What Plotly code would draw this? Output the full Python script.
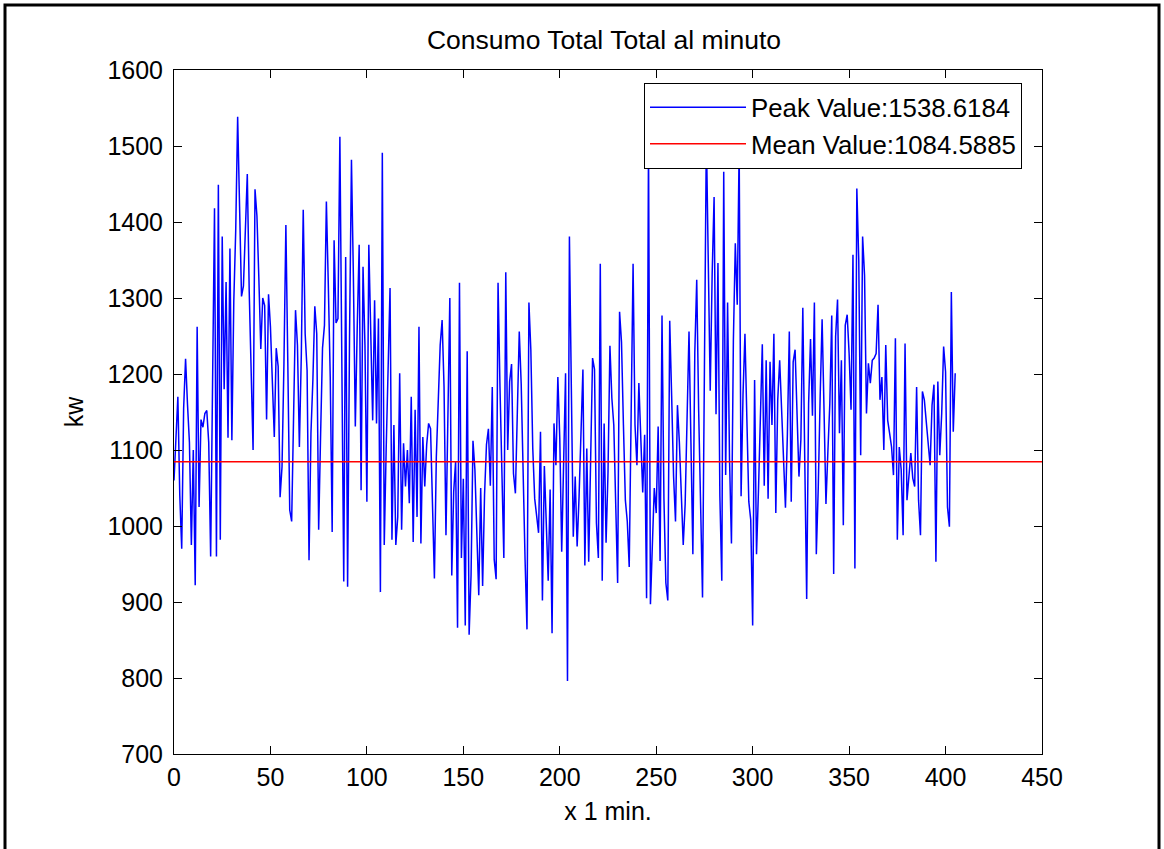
import plotly.graph_objects as go

# ---- data ----
consumo_kw = [
    1060, 1120, 1170, 1040, 970, 1155, 1220, 1160, 1110, 975,
    1100, 922, 1262, 1025, 1140, 1130, 1148, 1152, 1110, 960,
    1238, 1418, 960, 1449, 982, 1381,
    1180, 1321, 1116, 1365, 1113, 1296, 1389, 1538.6184, 1420, 1302,
    1316, 1380, 1463, 1308, 1210, 1100, 1443, 1408, 1325, 1233,
    1300, 1290, 1140, 1305,
    1262, 1196, 1117, 1234, 1210, 1038, 1078, 1214, 1396, 1216,
    1021, 1006, 1144, 1284, 1238, 1104, 1225, 1416, 1253, 1205,
    955, 1122, 1192, 1289, 1253, 995, 1120, 1234, 1264, 1427,
    1317, 1196, 992, 1376, 1267, 1273, 1512, 1218, 927, 1354,
    920, 1249, 1482, 1328, 1131, 1262, 1370, 1047, 1341, 1238,
    1032, 1370, 1253, 1139, 1297, 1135, 1273, 913, 1491, 975,
    1102, 1196, 1313, 982, 1133, 975, 1012, 1201, 995, 1109,
    1052, 1100, 1030, 1170, 979, 1153, 1012, 1262, 977, 1117,
    1052, 1107, 1135, 1128, 1028, 931, 1091, 1164, 1238, 1271,
    1183, 988, 1139, 1300, 935, 1045, 1085, 866, 1320,
    958, 1062, 869, 1230, 857, 935, 1112, 1074, 975, 909,
    1050, 921, 1041, 1107, 1128, 1053, 1183, 956, 930, 1320,
    1183, 1069, 958, 1334, 1100, 1190, 1213, 1069, 1043, 1150,
    1256, 1187, 1053, 956, 864, 1294, 1232, 1102, 1036, 1015,
    991, 1124, 902, 1079, 991, 928, 1048, 859, 1135,
    1080, 1196, 1115, 966, 1097, 1201, 796, 1381, 1181, 986,
    1065, 973, 1039, 1123, 1206, 948, 1102, 953, 1085, 1221,
    1206, 1004, 958, 1345, 928, 1135, 978, 1070, 1237, 1168,
    1133, 1014, 925, 1282, 1242, 1133, 1034, 1006, 946, 1148,
    1345, 1133, 1080, 1188, 1110, 1044, 1120, 905, 1505,
    897, 975, 1050, 1017, 1131, 954, 1277, 1036, 925, 902,
    1270, 1171, 1065, 1006, 1159, 1110, 1029, 975, 1029, 1131,
    1256, 1110, 963, 1228, 1324, 1152, 1008, 906, 1209, 1515,
    1346, 1178, 1331, 1433, 1147, 1346, 1039, 928, 1466, 1067,
    1294, 1088, 977, 1244, 1372, 1291, 1498, 1039, 1173, 1253,
    1140, 1032, 1008, 869, 1192, 963, 1046, 1140, 1239, 1053,
    1218, 1036, 1216, 1133, 1253, 1017, 1166, 1218, 1154, 1072,
    1024, 1121, 1256, 1032, 1216, 1232, 1150, 1065, 1114, 1287,
    1088, 904, 1161, 1246, 1145, 1294, 963, 1050, 1171, 1272,
    1152, 1029, 1098, 1161, 1277, 937, 1249, 1298, 1122,
    1218, 1001, 1264, 1278, 1227, 1153, 1357, 944, 1444, 1350,
    1093, 1381, 1330, 1148, 1214, 1188, 1218, 1221, 1227, 1291,
    1166, 1196, 1100, 1238, 1139, 1122, 1104, 1067, 1247, 982,
    1104, 1074, 988, 1240, 1034, 1065, 1096, 1063, 1052, 1183,
    1034, 988, 1177, 1166, 1137, 1107, 1080, 1159, 1186,
    953, 1190, 1093, 1148, 1236, 1203, 1025, 999, 1308, 1124, 1201,
]
minutes = list(range(len(consumo_kw)))

peak_value = 1538.6184
mean_value = 1084.5885
mean_x_span = [0, 450]

x_ticks = [0, 50, 100, 150, 200, 250, 300, 350, 400, 450]
y_ticks = [700, 800, 900, 1000, 1100, 1200, 1300, 1400, 1500, 1600]

title_text = "Consumo Total Total al minuto"
x_label = "x 1 min."
y_label = "kw"

FONT = "Liberation Sans, Arial, Helvetica, sans-serif"
FS = 25

fig = go.Figure()
fig.add_trace(go.Scatter(
    x=minutes, y=consumo_kw, mode="lines",
    line=dict(color="#0000FF", width=1.5),
    name=f"Peak Value:{peak_value:.4f}",
))
fig.add_trace(go.Scatter(
    x=mean_x_span, y=[mean_value] * len(mean_x_span), mode="lines",
    line=dict(color="#FF0000", width=1.5),
    name=f"Mean Value:{mean_value:.4f}",
))

L, R, T, B = 174, 1164 - 1042, 70, 849 - 754
W, H = 1164, 849
pw, ph = W - L - R, H - T - B

axis_common = dict(
    showgrid=False, zeroline=False, showline=True, linecolor="black",
    linewidth=1, mirror="ticks", ticks="inside", ticklen=8,
    tickcolor="black", tickwidth=1,
    tickfont=dict(family=FONT, size=FS, color="black"),
)

fig.update_layout(
    width=W, height=H,
    margin=dict(l=L, r=R, t=T, b=B, pad=0),
    paper_bgcolor="white", plot_bgcolor="white",
    font=dict(family=FONT, size=FS, color="black"),
    title=dict(text=title_text, x=604 / W, xanchor="center",
               y=1 - 40 / H, yanchor="middle",
               font=dict(family=FONT, size=26.5, color="black")),
    xaxis=dict(range=[0, 450], tickvals=x_ticks, ticklabelstandoff=1,
               title=dict(text=x_label, standoff=12,
                          font=dict(family=FONT, size=FS)),
               **axis_common),
    yaxis=dict(range=[700, 1600], tickvals=y_ticks, ticklabelstandoff=5,
               title=dict(text=y_label, standoff=16,
                          font=dict(family=FONT, size=FS)),
               **axis_common),
    legend=dict(x=(1022 - L) / pw, xanchor="right",
                y=(754 - 83) / ph, yanchor="top",
                bgcolor="white", bordercolor="black", borderwidth=1,
                font=dict(family=FONT, size=25.8, color="black"),
                itemwidth=96, tracegroupgap=0),
    showlegend=True,
    shapes=[dict(type="rect", xref="paper", yref="paper",
                 x0=(5 - L) / pw, x1=(1159 - L) / pw,
                 y0=(754 - 870) / ph, y1=(754 - 5) / ph,
                 line=dict(color="black", width=3), layer="above")],
)

fig.write_html("out.html")
